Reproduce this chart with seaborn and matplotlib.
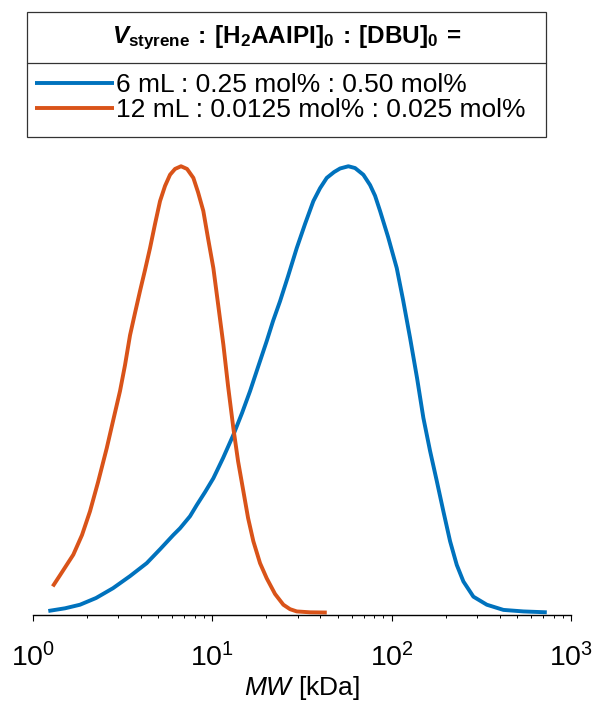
import numpy as np
import pandas as pd
import matplotlib
matplotlib.use("Agg")
import matplotlib.pyplot as plt
from matplotlib.patches import Rectangle
from matplotlib.lines import Line2D
import seaborn as sns

# ---- data ----
series_labels = ["6 mL : 0.25 mol% : 0.50 mol%",
                 "12 mL : 0.0125 mol% : 0.025 mol%"]

blue_mw = [1.222, 1.514, 1.835, 2.254, 2.803, 3.486, 4.320, 5.124, 6.076, 6.623,
           7.530, 8.21, 9.13, 10.16, 11.50, 13.13, 14.68, 16.27, 18.03, 20.15,
           21.86, 23.90, 26.49, 29.62, 32.95, 36.65, 39.95, 43.54, 47.81, 51.64,
           57.44, 62.60, 69.63, 75.89, 80.91, 86.28, 95.60, 106.9, 115.9, 126.8,
           138.7, 150.4, 163.9, 178.6, 194.4, 211.9, 230.9, 251.4, 285.8, 339.5,
           420.1, 542.8, 732.9]
blue_w = [0.005, 0.011, 0.019, 0.034, 0.056, 0.083, 0.112, 0.143, 0.175, 0.190,
          0.217, 0.242, 0.271, 0.302, 0.347, 0.399, 0.448, 0.497, 0.551, 0.609,
          0.654, 0.698, 0.754, 0.817, 0.871, 0.922, 0.951, 0.974, 0.987, 0.995,
          1.000, 0.996, 0.981, 0.958, 0.934, 0.900, 0.842, 0.772, 0.701, 0.616,
          0.526, 0.437, 0.363, 0.296, 0.228, 0.161, 0.108, 0.071, 0.037, 0.019,
          0.0074, 0.004, 0.002]

orange_mw = [1.293, 1.420, 1.684, 1.883, 2.086, 2.312, 2.585, 2.803, 3.066, 3.269,
             3.487, 3.718, 3.964, 4.227, 4.507, 4.806, 5.124, 5.464, 5.826, 6.212,
             6.709, 7.247, 7.858, 8.345, 8.93, 9.486, 10.16, 10.79, 11.55, 12.27,
             13.13, 13.95, 14.93, 15.86, 16.97, 18.49, 20.15, 22.42, 24.94, 27.18,
             29.62, 35.13, 43.54]
orange_w = [0.060, 0.085, 0.131, 0.175, 0.228, 0.293, 0.369, 0.430, 0.497, 0.555,
            0.622, 0.672, 0.721, 0.768, 0.817, 0.871, 0.922, 0.956, 0.981, 0.994,
            1.000, 0.994, 0.974, 0.942, 0.900, 0.839, 0.772, 0.692, 0.601, 0.508,
            0.414, 0.340, 0.273, 0.213, 0.161, 0.112, 0.078, 0.043, 0.019, 0.009,
            0.004, 0.002, 0.0015]

xtick_vals = [1, 10, 100, 1000]

colors = ["#0072BD", "#D95319"]

df = pd.concat([
    pd.DataFrame({"MW": blue_mw, "w": blue_w, "series": series_labels[0]}),
    pd.DataFrame({"MW": orange_mw, "w": orange_w, "series": series_labels[1]}),
], ignore_index=True)

# ---- style ----
sns.set_theme(style="white")
plt.rcParams["font.family"] = ["Liberation Sans", "DejaVu Sans"]
plt.rcParams["text.color"] = "black"
plt.rcParams["axes.labelcolor"] = "black"
plt.rcParams["xtick.color"] = "black"
plt.rcParams["mathtext.fontset"] = "custom"
plt.rcParams["mathtext.rm"] = "Liberation Sans"
plt.rcParams["mathtext.it"] = "Liberation Sans:italic"
plt.rcParams["mathtext.bf"] = "Liberation Sans:bold"
try:
    plt.rcParams["mathtext.bfit"] = "Liberation Sans:italic:bold"
except KeyError:
    pass

W, H = 593, 707
fig = plt.figure(figsize=(W / 100, H / 100), dpi=100)
ax = fig.add_axes([32.7 / W, 1 - 615 / H, (571 - 32.7) / W, (615 - 160) / H])

sns.lineplot(data=df, x="MW", y="w", hue="series", hue_order=series_labels,
             palette=colors, sort=False, estimator=None, linewidth=2.8,
             legend=False, ax=ax)
for ln in ax.get_lines():
    ln.set_solid_joinstyle("round")
    ln.set_solid_capstyle("butt")

ax.set_xscale("log")
ax.set_xlim(1, 1000)
ax.set_ylim(-0.004, 1.014)
ax.set_xticks(xtick_vals)
ax.set_yticks([])
ax.set_ylabel("")
ax.set_xlabel(r"$\mathit{MW}$ [kDa]", fontsize=19, labelpad=1, color="black")
for s in ["top", "right", "left"]:
    ax.spines[s].set_visible(False)
ax.spines["bottom"].set_color("black")
ax.spines["bottom"].set_linewidth(1.0)
ax.tick_params(axis="x", which="major", direction="out", length=4.5, width=0.8,
               color="black", labelcolor="black", labelsize=20.5, pad=16,
               bottom=True)
ax.tick_params(axis="x", which="minor", direction="out", length=2.5, width=0.7,
               color="black", bottom=True)
ax.set_facecolor("white")

# ---- legend (MATLAB-style, title in its own box) ----
lines = ax.get_lines()[:2]
leg = fig.legend(lines, series_labels, loc="upper left",
                 bbox_to_anchor=(35 / W, 1 - 73.5 / H), frameon=False,
                 fontsize=19, handlelength=3.0, handletextpad=0.08,
                 borderpad=0, borderaxespad=0, labelspacing=0.02,
                 labelcolor="black")

box = Rectangle((26.7 / W, 1 - 136.7 / H), (546 - 26.7) / W, (136.7 - 11.7) / H,
                transform=fig.transFigure, fill=False, edgecolor="#333333",
                linewidth=0.9)
fig.add_artist(box)
fig.add_artist(Line2D([26.7 / W, 546 / W], [1 - 62.7 / H, 1 - 62.7 / H],
                      transform=fig.transFigure, color="#333333", linewidth=0.9))

title = (r"$\mathbfit{V}_{\mathbf{styrene}}\mathbf{\::\:[H_2AAIPI]_0\::\:[DBU]_0\:=}$")
fig.text(287 / W, 1 - 38 / H, title, ha="center", va="center", fontsize=17.5,
         color="black")

fig.savefig("out.png", dpi=100, facecolor="white")
